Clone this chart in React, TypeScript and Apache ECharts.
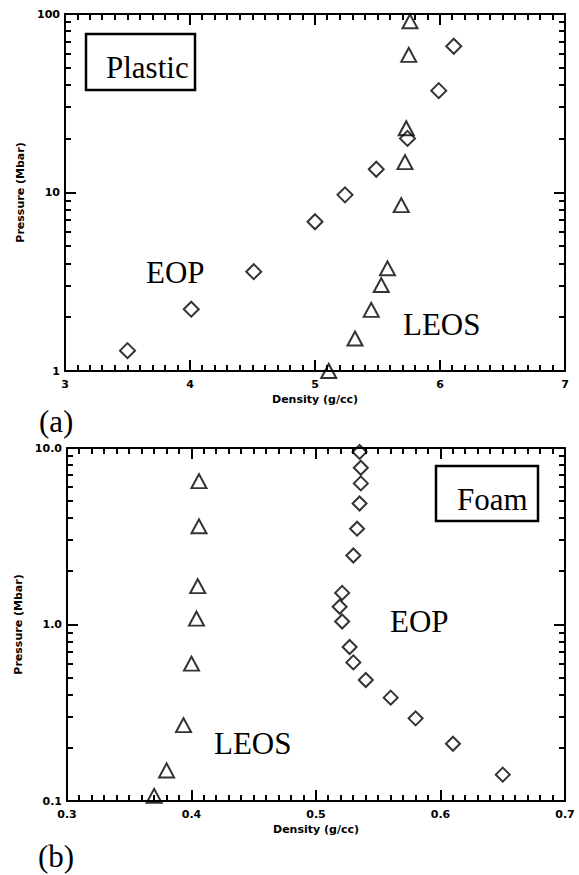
import React, { useEffect, useRef } from "react";
import * as echarts from "echarts";

// ---- Panel (a): Plastic ----
const plasticEopDensity = [3.5, 4.01, 4.51, 5.0, 5.24, 5.49, 5.74, 5.99, 6.11];
const plasticEopPressure = [1.3, 2.22, 3.6, 6.86, 9.7, 13.5, 20.1, 37.2, 66];
const plasticLeosDensity = [5.11, 5.32, 5.45, 5.53, 5.58, 5.69, 5.72, 5.73, 5.75, 5.76];
const plasticLeosPressure = [1.0, 1.52, 2.2, 3.03, 3.76, 8.5, 14.8, 22.9, 59, 91];
const plasticXTicks = [3, 7, 1];
const plasticYRange = [1, 100];
const plasticYMajorTicks = [1, 10, 100];
const plasticYMinorTicks = [2, 3, 4, 5, 6, 7, 8, 9, 20, 30, 40, 50, 60, 70, 80, 90];

// ---- Panel (b): Foam ----
const foamEopDensity = [0.535, 0.536, 0.536, 0.535, 0.533, 0.53, 0.521, 0.519, 0.521, 0.527, 0.53, 0.54, 0.56, 0.58, 0.61, 0.65];
const foamEopPressure = [9.5, 7.73, 6.3, 4.85, 3.49, 2.46, 1.51, 1.26, 1.04, 0.746, 0.61, 0.485, 0.385, 0.294, 0.211, 0.141];
const foamLeosDensity = [0.37, 0.38, 0.3936, 0.4, 0.404, 0.405, 0.406, 0.406];
const foamLeosPressure = [0.107, 0.149, 0.269, 0.6, 1.08, 1.65, 3.6, 6.49];
const foamXTicks = [0.3, 0.7, 0.1];
const foamYRange = [0.1, 10];
const foamYMajorTicks = [0.1, 1, 10];
const foamYMinorTicks = [0.2, 0.3, 0.4, 0.5, 0.6, 0.7, 0.8, 0.9, 2, 3, 4, 5, 6, 7, 8, 9];

const xTitle = "Density (g/cc)";
const yTitle = "Pressure (Mbar)";

const zip = (a: number[], b: number[]) => a.map((v, i) => [v, b[i]]);

const AXIS_FONT = "DejaVu Sans";
const SERIF = "Liberation Serif";
const INK = "#000000";
const MAJOR_LEN = 11;
const MINOR_LEN = 6;
const TICK_W = 2;

function xAxisPair(gridIndex: number, ticks: number[], nameGap: number) {
  const common: any = {
    type: "value",
    gridIndex,
    min: ticks[0],
    max: ticks[1],
    interval: ticks[2],
    splitLine: { show: false },
    axisLine: { show: true, onZero: false, lineStyle: { color: INK, width: 2 } },
    axisTick: { show: false },
    minorTick: { show: false },
  };
  return [
    {
      ...common,
      position: "bottom",
      name: xTitle,
      nameLocation: "middle",
      nameGap,
      nameTextStyle: { color: INK, fontFamily: AXIS_FONT, fontWeight: "bold", fontSize: 11 },
      axisLabel: {
        show: true,
        color: INK,
        fontFamily: AXIS_FONT,
        fontWeight: "bold",
        fontSize: 11,
        margin: 8,
        showMinLabel: true,
        showMaxLabel: true,
        formatter: (v: number) => (ticks[2] < 1 ? v.toFixed(1) : String(Math.round(v))),
      },
    },
    { ...common, position: "top", axisLabel: { show: false } },
  ];
}

function yAxisPair(gridIndex: number, range: number[], nameGap: number, fmt: (v: number) => string) {
  const common: any = {
    type: "log",
    logBase: 10,
    gridIndex,
    min: range[0],
    max: range[1],
    splitLine: { show: false },
    minorTick: { show: false },
    axisTick: { show: false },
    axisLine: { show: true, onZero: false, lineStyle: { color: INK, width: 2 } },
  };
  return [
    {
      ...common,
      position: "left",
      name: yTitle,
      nameLocation: "middle",
      nameRotate: 90,
      nameGap,
      nameTextStyle: { color: INK, fontFamily: AXIS_FONT, fontWeight: "bold", fontSize: 11 },
      axisLabel: {
        show: true,
        color: INK,
        fontFamily: AXIS_FONT,
        fontWeight: "bold",
        fontSize: 11,
        margin: 5,
        showMinLabel: true,
        showMaxLabel: true,
        formatter: fmt,
      },
    },
    { ...common, position: "right", axisLabel: { show: false } },
  ];
}

// Tick positions along the density axis: majors every interval, 10 minor steps between.
function xTickValues(ticks: number[]) {
  const [min, max, step] = ticks;
  const n = Math.round((max - min) / step) * 10;
  const out: number[][] = [];
  for (let i = 0; i <= n; i++) {
    const v = +(min + (i * step) / 10).toFixed(6);
    out.push([v, i % 10 === 0 ? 0 : 1]);
  }
  return out;
}

// Frame ticks drawn as filled bars (inside, on both opposite edges), placed through the axes' scales.
function frameTickSeries(axisIndex: number, xTicks: number[], yRange: number[], yMajor: number[], yMinor: number[]) {
  const data: number[][] = [];
  xTickValues(xTicks).forEach(([v, minor]) => data.push([v, yRange[0], minor]));
  yMajor.forEach((v) => data.push([xTicks[0], v, 2]));
  yMinor.forEach((v) => data.push([xTicks[0], v, 3]));
  return {
    type: "custom",
    coordinateSystem: "cartesian2d",
    xAxisIndex: axisIndex,
    yAxisIndex: axisIndex,
    silent: true,
    clip: false,
    z: 10,
    data,
    renderItem: (params: any, api: any) => {
      const kind = api.value(2);
      const p = api.coord([api.value(0), api.value(1)]);
      const cs = params.coordSys;
      const style = { fill: INK };
      if (kind <= 1) {
        const len = kind === 0 ? MAJOR_LEN : MINOR_LEN;
        const x = Math.round(p[0] - TICK_W / 2);
        return {
          type: "group",
          children: [
            { type: "rect", shape: { x, y: cs.y + cs.height - len, width: TICK_W, height: len }, style },
            { type: "rect", shape: { x, y: cs.y, width: TICK_W, height: len }, style },
          ],
        };
      }
      const len = kind === 2 ? MAJOR_LEN : MINOR_LEN;
      const y = Math.round(p[1] - TICK_W / 2);
      return {
        type: "group",
        children: [
          { type: "rect", shape: { x: cs.x, y, width: len, height: TICK_W }, style },
          { type: "rect", shape: { x: cs.x + cs.width - len, y, width: len, height: TICK_W }, style },
        ],
      };
    },
  };
}

const markerStyle = { color: "rgba(0,0,0,0)", borderColor: INK, borderWidth: 2 };

function scatter(axisIndex: number, xs: number[], ys: number[], symbol: string, size: number[]) {
  return {
    type: "scatter",
    xAxisIndex: axisIndex,
    yAxisIndex: axisIndex,
    symbol,
    symbolSize: size,
    itemStyle: markerStyle,
    data: zip(xs, ys),
    z: 3,
  };
}

function serifText(text: string, x: number, y: number) {
  return {
    type: "text",
    x,
    y,
    style: {
      text,
      fill: INK,
      font: `31px "${SERIF}"`,
      textAlign: "left",
      textVerticalAlign: "middle",
    },
  };
}

export default function App() {
  const ref = useRef<HTMLDivElement>(null);

  useEffect(() => {
    if (!ref.current) return;
    const chart = echarts.init(ref.current, undefined, { renderer: "svg" });
    const option: any = {
      animation: false,
      backgroundColor: "#fff",
      grid: [
        { left: 65, top: 14, width: 500, height: 357 },
        { left: 67, top: 448, width: 498, height: 353 },
      ],
      xAxis: [...xAxisPair(0, plasticXTicks, 23), ...xAxisPair(1, foamXTicks, 23)],
      yAxis: [
        ...yAxisPair(0, plasticYRange, 31, (v: number) => String(Math.round(v))),
        ...yAxisPair(1, foamYRange, 34, (v: number) => v.toFixed(1)),
      ],
      series: [
        { ...scatter(0, plasticEopDensity, plasticEopPressure, "diamond", [15, 15]) },
        { ...scatter(0, plasticLeosDensity, plasticLeosPressure, "triangle", [15, 14]) },
        { ...scatter(2, foamEopDensity, foamEopPressure, "diamond", [14, 14]) },
        { ...scatter(2, foamLeosDensity, foamLeosPressure, "triangle", [15, 14]) },
        frameTickSeries(0, plasticXTicks, plasticYRange, plasticYMajorTicks, plasticYMinorTicks),
        frameTickSeries(2, foamXTicks, foamYRange, foamYMajorTicks, foamYMinorTicks),
      ],
      graphic: [
        { type: "rect", shape: { x: 86, y: 34, width: 109, height: 56 }, style: { fill: "none", stroke: INK, lineWidth: 2.5 } },
        serifText("Plastic", 106, 67),
        serifText("EOP", 146, 272),
        serifText("LEOS", 403, 324),
        serifText("(a)", 39, 421),
        { type: "rect", shape: { x: 436, y: 466, width: 102, height: 55 }, style: { fill: "none", stroke: INK, lineWidth: 2.5 } },
        serifText("Foam", 457, 499),
        serifText("EOP", 390, 621),
        serifText("LEOS", 214, 743),
        serifText("(b)", 38, 856),
      ],
    };
    chart.setOption(option);
    return () => chart.dispose();
  }, []);

  return (
    <div
      ref={ref}
      style={{ position: "absolute", left: 0, top: 0, width: 579, height: 875, background: "#fff" }}
    />
  );
}
